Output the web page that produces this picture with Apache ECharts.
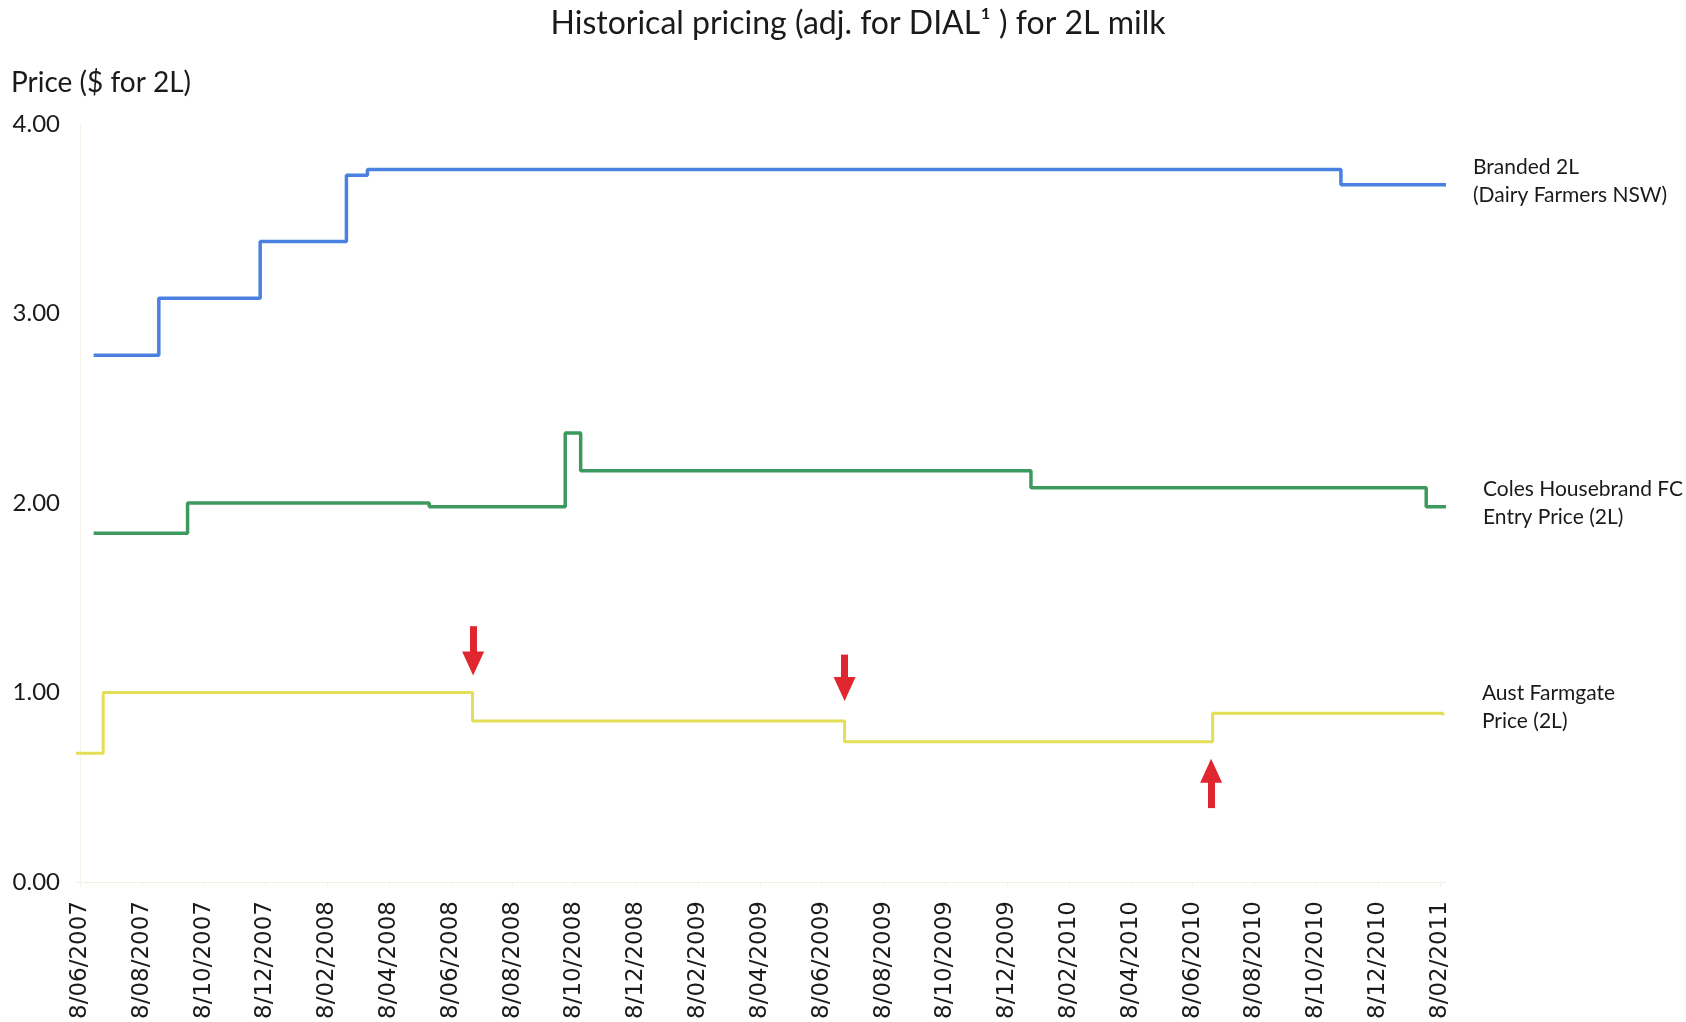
<!DOCTYPE html>
<html><head><meta charset="utf-8">
<script src="https://cdn.jsdelivr.net/npm/echarts@6/dist/echarts.min.js"></script>
<style>html,body{margin:0;padding:0;background:#fff;} #c{width:1686px;height:1022px;}</style>
</head><body><div id="c"></div>
<script>
// x tick labels (every 2 months), positioned at month offsets 0,2,...,44 from 8/06/2007
const xLabels = ['8/06/2007','8/08/2007','8/10/2007','8/12/2007','8/02/2008','8/04/2008','8/06/2008','8/08/2008','8/10/2008','8/12/2008','8/02/2009','8/04/2009','8/06/2009','8/08/2009','8/10/2009','8/12/2009','8/02/2010','8/04/2010','8/06/2010','8/08/2010','8/10/2010','8/12/2010','8/02/2011'];
const xTickMonths = xLabels.map((_, i) => i * 2);
const yTicks = [0, 1, 2, 3, 4];
const seriesNames = ['Branded 2L\n(Dairy Farmers NSW)', 'Coles Housebrand FC\nEntry Price (2L)', 'Aust Farmgate\nPrice (2L)'];

// step change points: month offset since 8/06/2007, price ($ for 2L)
const brandedMonths = [0.44, 2.55, 5.83, 8.62, 9.3, 40.8, 44.2];
const brandedValues = [2.78, 3.08, 3.38, 3.73, 3.76, 3.68, 3.68];
const colesMonths = [0.44, 3.48, 11.3, 15.7, 16.2, 30.77, 43.56, 44.2];
const colesValues = [1.84, 2.00, 1.98, 2.37, 2.17, 2.08, 1.98, 1.98];
const farmMonths = [-0.13, 0.75, 12.7, 24.74, 36.65, 44.1];
const farmValues = [0.68, 1.00, 0.85, 0.74, 0.89, 0.88];

// red arrows: month, tail value, tip value
const arrowMonths = [12.72, 24.74, 36.6];
const arrowTail = [1.35, 1.20, 0.39];
const arrowTip = [1.09, 0.955, 0.65];

const zip = (a, b) => a.map((v, i) => [v, b[i]]);
const chart = echarts.init(document.getElementById('c'), null, {renderer: 'canvas'});

const gridTop = 124, gridBottom = 140;
const pxPerUnit = (1022 - gridTop - gridBottom) / (yTicks[yTicks.length - 1] - yTicks[0]);
const headPx = 12;

const arrowData = arrowMonths.map((m, i) => {
  const dir = arrowTip[i] < arrowTail[i] ? 1 : -1;
  return [{coord: [m, arrowTail[i]]}, {coord: [m, arrowTip[i] + dir * headPx / pxPerUnit]}];
});

const txt = '#1a1a1a';
const labelFont = 'Lato';

function lineSeries(name, data, color, width, dist, offY) {
  return {
    type: 'line', name, data, step: 'end', showSymbol: false, symbol: 'none',
    lineStyle: {color, width}, itemStyle: {color}, animation: false, silent: true,
    endLabel: {
      show: true, formatter: name, distance: dist, offset: [0, offY],
      color: txt, fontFamily: labelFont, fontSize: 21, lineHeight: 28, align: 'left', verticalAlign: 'middle'
    }
  };
}

const farm = lineSeries(seriesNames[2], zip(farmMonths, farmValues), '#e3de55', 3, 39, -8);
farm.markLine = {
  silent: true, animation: false,
  symbol: ['none', 'triangle'], symbolSize: [22, 24],
  lineStyle: {color: '#e0262e', width: 7, type: 'solid'},
  itemStyle: {color: '#e0262e'},
  label: {show: false},
  emphasis: {disabled: true},
  data: arrowData
};

chart.setOption({
  backgroundColor: '#ffffff',
  title: [
    {text: 'Historical pricing (adj. for DIAL\u00b9 ) for 2L milk', left: 853, top: 3, textAlign: 'center',
     textStyle: {fontFamily: labelFont, fontSize: 32, fontWeight: 'normal', color: txt}},
    {text: 'Price ($ for 2L)', left: 6, top: 64,
     textStyle: {fontFamily: labelFont, fontSize: 28, fontWeight: 'normal', color: txt}}
  ],
  grid: {left: 76, right: 240, top: gridTop, bottom: gridBottom, containLabel: false},
  xAxis: {
    type: 'value', min: -0.13, max: 44.2,
    axisLine: {show: true, lineStyle: {color: '#efefe2', width: 1}},
    axisTick: {show: true, customValues: xTickMonths, length: 5, lineStyle: {color: '#f2f2ea'}},
    splitLine: {show: false},
    axisLabel: {
      customValues: xTickMonths, rotate: 90, margin: 19,
      formatter: v => xLabels[Math.round(v / 2)],
      fontFamily: 'DejaVu Sans', fontSize: 23, color: txt
    }
  },
  yAxis: {
    type: 'value', min: yTicks[0], max: yTicks[yTicks.length - 1], interval: 1,
    axisLine: {show: true, lineStyle: {color: '#f5f5ea', width: 1}},
    axisTick: {show: false}, splitLine: {show: false},
    axisLabel: {formatter: v => v.toFixed(2), fontFamily: labelFont, fontSize: 24, color: txt, margin: 16}
  },
  series: [
    lineSeries(seriesNames[0], zip(brandedMonths, brandedValues), '#4a80e0', 3.5, 27, -3),
    lineSeries(seriesNames[1], zip(colesMonths, colesValues), '#3d9a5e', 3.5, 37, -4),
    farm
  ]
});
</script>
</body></html>
